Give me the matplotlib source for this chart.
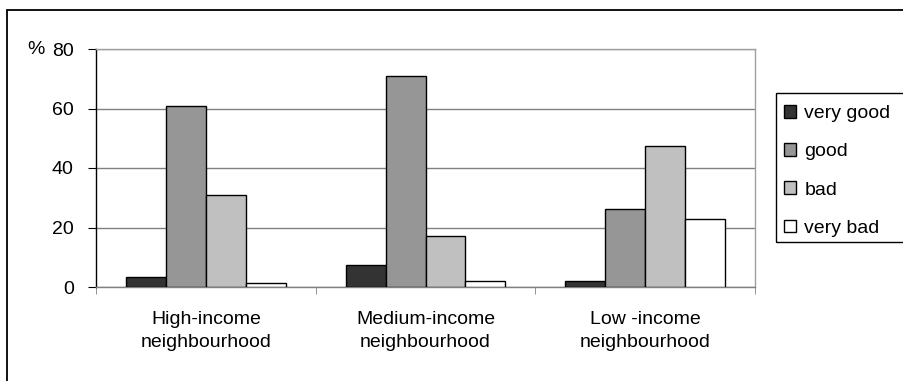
import numpy as np
import matplotlib
matplotlib.use("Agg")
from matplotlib import pyplot as plt
from matplotlib.patches import Rectangle

plt.rcParams['font.family'] = ['Liberation Sans', 'DejaVu Sans']

# neighbourhood groups and the share of answers per rating (%)
areas = ['High-income\nneighbourhood', 'Medium-income\nneighbourhood', 'Low -income\nneighbourhood']
ratings = ['very good', 'good', 'bad', 'very bad']
very_good = [3.3, 7.3, 2.0]
good = [61.0, 71.0, 26.3]
bad = [31.0, 17.1, 47.3]
very_bad = [1.3, 2.0, 23.0]
colors = ['#333333', '#969696', '#c0c0c0', '#ffffff']

W, H = 904, 381
fig = plt.figure(figsize=(W / 100, H / 100), dpi=100)
ax = fig.add_axes([96 / W, 1 - 287 / H, (755 - 96) / W, (287 - 49) / H])

x = np.arange(len(areas))
bw = 0.182
series = [very_good, good, bad, very_bad]
for i, (vals, lab, col) in enumerate(zip(series, ratings, colors)):
    ax.bar(x + (i - 1.5) * bw, vals, bw, color=col, edgecolor='black',
           linewidth=1.0, label=lab, zorder=3)

ax.set_xlim(-0.5, 2.5)
ax.set_ylim(0, 80)
ax.set_yticks([0, 20, 40, 60, 80])
ax.yaxis.grid(True, color='#808080', linewidth=1.0, zorder=0)
ax.set_axisbelow(True)

ax.set_xticks(x)
ax.set_xticklabels(areas, fontsize=14, linespacing=1.5)
ax.set_xticks([-0.5, 0.5, 1.5, 2.5], minor=True)
ax.tick_params(axis='x', which='major', length=0, pad=17)
ax.tick_params(axis='x', which='minor', length=5, color='#808080', direction='out')
ax.tick_params(axis='y', length=6, pad=10, labelsize=14, color='black')

for s in ['top', 'right']:
    ax.spines[s].set_color('#a0a0a0')
ax.spines['bottom'].set_color('#808080')
ax.spines['left'].set_color('black')
for s in ax.spines.values():
    s.set_linewidth(1.0)

fig.text(36 / W, 1 - 50 / H, '%', fontsize=14, ha='center', va='center')

# legend frame plus entries
fig.patches.append(Rectangle((776 / W, 1 - 242 / H), 0.3, (242 - 93) / H,
                             transform=fig.transFigure, fill=False,
                             edgecolor='black', linewidth=1.0))
handles, labels = ax.get_legend_handles_labels()
fig.legend(handles, labels, loc='center left', frameon=False,
           bbox_to_anchor=(784 / W, 1 - 171 / H), fontsize=14,
           handlelength=0.6, handleheight=0.6, handletextpad=0.45,
           labelspacing=1.08, borderpad=0, borderaxespad=0)

# outer chart border
fig.patches.append(Rectangle((7 / W, -0.2), 1.2, 1.2 - 10 / H,
                             transform=fig.transFigure, fill=False,
                             edgecolor='black', linewidth=1.3))

fig.savefig('out.png', dpi=100)
